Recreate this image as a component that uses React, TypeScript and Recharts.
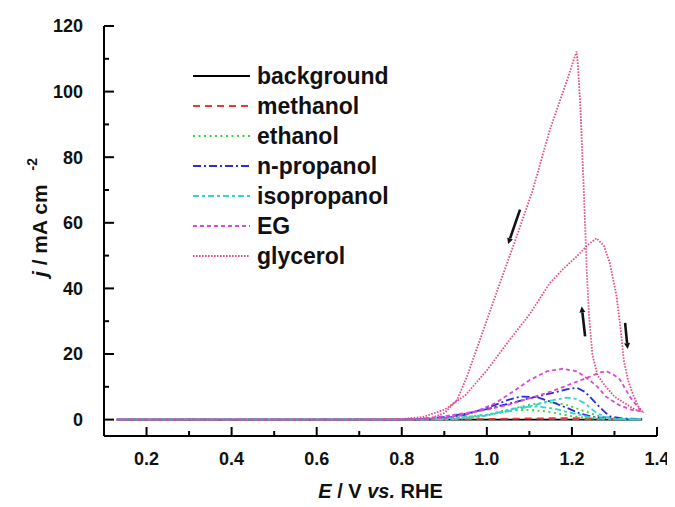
import React from "react";
import { LineChart, Line, XAxis, YAxis, Legend, ReferenceLine } from "recharts";

// Cyclic voltammograms: each series is a closed loop (forward scan, then backward scan).
// Potentials E in V vs. RHE, current density j in mA cm^-2.

const backgroundE = [0.13, 0.5, 1.0, 1.365, 1.0, 0.5, 0.13];
const backgroundJ = [0, 0, 0, 0, 0, 0, 0];

const methanolE = [0.13, 0.5, 0.9, 1.0, 1.1, 1.2, 1.28, 1.365, 1.2, 1.1, 1.0, 0.9, 0.5, 0.13];
const methanolJ = [0, 0, 0, 0.2, 0.4, 0.5, 0.3, 0.1, 0.1, 0.3, 0.1, 0, 0, 0];

const ethanolE = [0.13, 0.5, 0.85, 0.9, 0.95, 1.0, 1.05, 1.1, 1.14, 1.18, 1.22, 1.26, 1.3, 1.365,
  1.3, 1.25, 1.2, 1.15, 1.1, 1.06, 1.02, 0.98, 0.93, 0.88, 0.5, 0.13];
const ethanolJ = [0, 0, 0, 0.3, 0.8, 1.5, 3, 4.5, 5.3, 4.8, 3, 1.2, 0.3, 0.1,
  0.1, 0.3, 1, 2.3, 3, 2.8, 1.8, 0.8, 0.2, 0, 0, 0];

const nPropanolE = [0.13, 0.5, 0.8, 0.85, 0.9, 0.95, 1.0, 1.05, 1.1, 1.15, 1.19, 1.212, 1.23, 1.242, 1.255, 1.266, 1.28, 1.29, 1.32, 1.365,
  1.33, 1.3, 1.25, 1.22, 1.19, 1.16, 1.12, 1.08, 1.05, 1.0, 0.95, 0.9, 0.85, 0.5, 0.13];
const nPropanolJ = [0, 0, 0, 0.2, 0.8, 1.8, 3.2, 4.8, 6.5, 8, 9.3, 9.7, 8.5, 7, 5.2, 3.7, 2, 1, 0.3, 0.2,
  0.2, 0.3, 0.8, 1.8, 3.5, 5, 6.8, 7, 6, 3.5, 1.5, 0.4, 0, 0, 0];

const isopropanolE = [0.13, 0.5, 0.85, 0.9, 0.95, 1.0, 1.05, 1.1, 1.15, 1.188, 1.21, 1.23, 1.258, 1.28, 1.3, 1.365,
  1.33, 1.28, 1.24, 1.2, 1.16, 1.12, 1.08, 1.04, 1.0, 0.95, 0.9, 0.5, 0.13];
const isopropanolJ = [0, 0, 0, 0.3, 0.8, 1.5, 2.5, 4, 5.8, 6.7, 6.3, 5, 2, 0.8, 0.3, 0.1,
  0.1, 0.3, 0.8, 2, 3.3, 4, 3.8, 2.6, 1.3, 0.4, 0, 0, 0];

const egE = [0.13, 0.5, 0.8, 0.85, 0.9, 0.95, 1.0, 1.05, 1.1, 1.15, 1.2, 1.24, 1.266, 1.282, 1.3, 1.313, 1.336, 1.36, 1.365,
  1.34, 1.31, 1.28, 1.26, 1.242, 1.212, 1.177, 1.141, 1.1, 1.061, 1.02, 0.984, 0.95, 0.9, 0.85, 0.5, 0.13];
const egJ = [0, 0, 0, 0.3, 1, 2, 3, 4.5, 6.5, 8.5, 11, 13, 14.4, 14.7, 13.5, 12.2, 7, 3, 2.5,
  3, 4.5, 7, 10, 12, 14.7, 15.5, 14.7, 12, 8.5, 5, 3, 1.5, 0.5, 0, 0, 0];

const glycerolE = [0.13, 0.3, 0.5, 0.7, 0.8, 0.85, 0.9, 0.95, 1.0, 1.054, 1.1, 1.148, 1.18, 1.211, 1.235, 1.258, 1.275, 1.289, 1.305, 1.315, 1.322, 1.332, 1.344, 1.356, 1.365,
  1.35, 1.33, 1.3, 1.28, 1.26, 1.248, 1.24, 1.235, 1.228, 1.22, 1.214, 1.211, 1.205, 1.19, 1.148, 1.108, 1.07, 1.031, 0.984, 0.953, 0.93, 0.9, 0.87, 0.83, 0.7, 0.5, 0.3, 0.13];
const glycerolJ = [0, 0, 0, 0, 0.2, 0.8, 3, 7.5, 15, 24.4, 32, 41.6, 46, 49.7, 53, 55.3, 53, 47.8, 37.6, 27, 18, 12, 7.5, 4, 2.5,
  3, 4.5, 7, 10, 13.5, 20, 32, 45, 70, 95, 108, 112.2, 110, 104, 88.3, 70, 55.8, 41.7, 24.4, 13, 6, 2, 0.5, 0.1, 0, 0, 0, 0];

// Axis ticks (major ticks are labelled, minor ones are not)
const xTicks = [0.1, 0.2, 0.3, 0.4, 0.5, 0.6, 0.7, 0.8, 0.9, 1.0, 1.1, 1.2, 1.3, 1.4];
const yTicks = [0, 10, 20, 30, 40, 50, 60, 70, 80, 90, 100, 110, 120];

// Scan-direction arrows: [E start, j start, E end, j end]
const scanArrows = [
  [1.078, 64, 1.05, 53.5],
  [1.231, 25.4, 1.223, 34.5],
  [1.325, 29.5, 1.331, 21.5],
];

const FONT = "'Liberation Sans', Arial, Helvetica, sans-serif";

const toPoints = (E: number[], j: number[]) => E.map((e, i) => ({ E: e, j: j[i] }));

const SERIES = [
  { name: "background", data: toPoints(backgroundE, backgroundJ), color: "#000000", dash: undefined as string | undefined, width: 1.8 },
  { name: "methanol", data: toPoints(methanolE, methanolJ), color: "#e8383a", dash: "7 5", width: 1.6 },
  { name: "ethanol", data: toPoints(ethanolE, ethanolJ), color: "#3ccf3c", dash: "2 3.5", width: 1.8 },
  { name: "n-propanol", data: toPoints(nPropanolE, nPropanolJ), color: "#2a2ad6", dash: "8 3 2 3", width: 1.8 },
  { name: "isopropanol", data: toPoints(isopropanolE, isopropanolJ), color: "#33d3d3", dash: "6 3 3 3", width: 1.8 },
  { name: "EG", data: toPoints(egE, egJ), color: "#d84ad8", dash: "4 3", width: 1.8 },
  { name: "glycerol", data: toPoints(glycerolE, glycerolJ), color: "#e0508a", dash: "1.6 1.4", width: 1.8 },
];

const XTick = (props: any) => {
  const { x, y, payload } = props;
  const v = payload.value as number;
  const major = Math.round(v * 10) % 2 === 0;
  return (
    <g>
      <line x1={x} x2={x} y1={y} y2={y - (major ? 9 : 5)} stroke="#000" strokeWidth={2} />
      {major && (
        <text x={x} y={y + 29} textAnchor="middle" fontSize={18} fontWeight="bold" fill="#111" fontFamily={FONT}>
          {v.toFixed(1)}
        </text>
      )}
    </g>
  );
};

const YTick = (props: any) => {
  const { x, y, payload } = props;
  const v = payload.value as number;
  const major = v % 20 === 0;
  return (
    <g>
      <line x1={x} x2={x + (major ? 10 : 5)} y1={y} y2={y} stroke="#000" strokeWidth={2} />
      {major && (
        <text x={x - 21} y={y} dy="0.36em" textAnchor="end" fontSize={18} fontWeight="bold" fill="#111" fontFamily={FONT}>
          {v}
        </text>
      )}
    </g>
  );
};

const XTitle = (props: any) => {
  const vb = props.viewBox || { x: 0, y: 0, width: 0, height: 0 };
  return (
    <text x={vb.x + vb.width / 2} y={vb.y + 62} textAnchor="middle" fontSize={20} fontWeight="bold" fill="#111" fontFamily={FONT}>
      <tspan fontStyle="italic">E</tspan>
      <tspan> / V </tspan>
      <tspan fontStyle="italic">vs.</tspan>
      <tspan> RHE</tspan>
    </text>
  );
};

const YTitle = (props: any) => {
  const vb = props.viewBox || { x: 0, y: 0, width: 0, height: 0 };
  const cx = vb.x + 39;
  const cy = vb.y + vb.height / 2 + 46;
  return (
    <text x={cx} y={cy} transform={`rotate(-90 ${cx} ${cy})`} textAnchor="start" fontSize={21} fontWeight="bold" fill="#111" fontFamily={FONT}>
      <tspan fontStyle="italic">j</tspan>
      <tspan> / mA cm</tspan>
      <tspan fontSize={14} dx={14} dy={-10}>-2</tspan>
    </text>
  );
};

const ArrowShape = (props: any) => {
  const { x1, y1, x2, y2 } = props;
  if ([x1, y1, x2, y2].some((n) => typeof n !== "number" || isNaN(n))) return null;
  const ang = Math.atan2(y2 - y1, x2 - x1);
  const L = 6;
  const W = 3;
  const bx = x2 - L * Math.cos(ang);
  const by = y2 - L * Math.sin(ang);
  const px = -Math.sin(ang) * W;
  const py = Math.cos(ang) * W;
  return (
    <g>
      <line x1={x1} y1={y1} x2={bx} y2={by} stroke="#111" strokeWidth={2.6} />
      <polygon points={`${x2},${y2} ${bx + px},${by + py} ${bx - px},${by - py}`} fill="#111" />
    </g>
  );
};

const LegendBox = (props: any) => {
  const payload = (props.payload || []) as any[];
  const order = SERIES.map((s) => s.name);
  const items = [...payload].sort((a, b) => order.indexOf(a.value) - order.indexOf(b.value));
  return (
    <div style={{ fontFamily: FONT }}>
      {items.map((entry) => {
        const s = SERIES.find((d) => d.name === entry.value);
        return (
          <div key={entry.value} style={{ display: "flex", alignItems: "center", height: 30 }}>
            <svg width={57} height={30} style={{ display: "block" }}>
              <line x1={0} x2={57} y1={15} y2={15} stroke={s ? s.color : entry.color} strokeWidth={s && s.name === "background" ? 2.2 : 2} strokeDasharray={s ? s.dash : undefined} />
            </svg>
            <span style={{ marginLeft: 7, fontSize: 23, fontWeight: "bold", color: "#111", lineHeight: "30px" }}>{entry.value}</span>
          </div>
        );
      })}
    </div>
  );
}

export default function App() {
  return (
    <div style={{ width: 667, height: 499, marginBottom: -8 }}>
      <LineChart width={667} height={499} margin={{ top: 18, right: 18, bottom: 16, left: 0 }}>
        <XAxis
          xAxisId="b"
          dataKey="E"
          type="number"
          domain={[0.1, 1.4]}
          ticks={xTicks}
          allowDataOverflow
          height={55}
          tickSize={0}
          tickMargin={0}
          tickLine={false}
          interval={0}
          axisLine={{ stroke: "#000", strokeWidth: 2 }}
          tick={<XTick />}
          label={{ content: <XTitle /> } as any}
        />
        <XAxis xAxisId="t" orientation="top" type="number" domain={[0.1, 1.4]} height={0} tick={false} tickLine={false} axisLine={{ stroke: "#000", strokeWidth: 2 }} />
        <YAxis
          yAxisId="l"
          type="number"
          domain={[-5, 120]}
          ticks={yTicks}
          allowDataOverflow
          width={96}
          tickSize={0}
          tickMargin={0}
          tickLine={false}
          interval={0}
          axisLine={{ stroke: "#000", strokeWidth: 2 }}
          tick={<YTick />}
          label={{ content: <YTitle /> } as any}
        />
        <YAxis yAxisId="r" orientation="right" type="number" domain={[-5, 120]} width={0} tick={false} tickLine={false} axisLine={{ stroke: "#000", strokeWidth: 2 }} />
        {SERIES.map((s) => (
          <Line
            key={s.name}
            xAxisId="b"
            yAxisId="l"
            name={s.name}
            data={s.data}
            dataKey="j"
            type="linear"
            stroke={s.color}
            strokeWidth={s.width}
            strokeDasharray={s.dash}
            dot={false}
            activeDot={false}
            isAnimationActive={false}
          />
        ))}
        {scanArrows.map((a, i) => (
          <ReferenceLine
            key={i}
            xAxisId="b"
            yAxisId="l"
            segment={[{ x: a[0], y: a[1] }, { x: a[2], y: a[3] }]}
            shape={<ArrowShape />}
            ifOverflow="visible"
          />
        ))}
        <Legend
          layout="vertical"
          align="center"
          verticalAlign="middle"
          content={<LegendBox />}
          wrapperStyle={{ left: 185, top: 53, width: 240 }}
        />
      </LineChart>
    </div>
  );
}
